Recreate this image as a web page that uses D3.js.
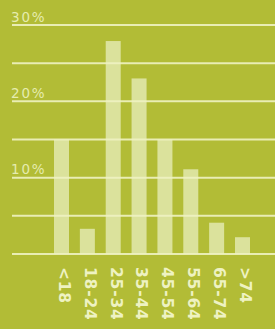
<!DOCTYPE html>
<html><head><meta charset="utf-8">
<script src="https://cdn.jsdelivr.net/npm/d3@7"></script>
<style>html,body{margin:0;padding:0;background:#b2bc36;overflow:hidden}</style>
</head><body>
<script>
const categories = ["<18","18-24","25-34","35-44","45-54","55-64","65-74",">74"];
const values = [15.0, 3.3, 27.9, 23.0, 15.0, 11.1, 4.1, 2.2];
const gridTicks = [0,5,10,15,20,25,30];
const labelTicks = [10,20,30];

const W = 275, H = 329;
const svg = d3.select("body").append("svg").attr("width", W).attr("height", H);
svg.append("rect").attr("width", W).attr("height", H).attr("fill", "#b2bc36");

const y = d3.scaleLinear().domain([0,30]).range([254,25]);
const x = d3.scaleBand().domain(categories).range([54,250]).paddingInner(0.42).paddingOuter(0);

svg.selectAll("rect.bar").data(values).join("rect")
  .attr("class","bar")
  .attr("x",(d,i)=>x(categories[i]))
  .attr("y",d=>y(d))
  .attr("width",x.bandwidth())
  .attr("height",d=>y(0)-y(d))
  .attr("fill","#dbe29c");

svg.selectAll("line.grid").data(gridTicks).join("line")
  .attr("class","grid")
  .attr("x1",12).attr("x2",W)
  .attr("y1",d=>y(d)).attr("y2",d=>y(d))
  .attr("stroke","#eef2c2").attr("stroke-opacity",0.9).attr("stroke-width",2);

svg.selectAll("text.ylab").data(labelTicks).join("text")
  .attr("class","ylab")
  .attr("x",11).attr("y",d=>y(d)-3.5)
  .attr("font-family","DejaVu Sans").attr("font-weight",400)
  .attr("font-size",13.5).attr("letter-spacing",1.8)
  .attr("fill","#e6ecaf")
  .text(d=>d+"%");

svg.selectAll("text.xlab").data(categories).join("text")
  .attr("class","xlab")
  .attr("transform",d=>`translate(${x(d)+x.bandwidth()/2+3},267) rotate(90)`)
  .attr("dy","0.36em")
  .attr("font-family","DejaVu Sans").attr("font-weight",700)
  .attr("font-size",15.5).attr("letter-spacing",0.8)
  .attr("fill","#eef2c2")
  .text(d=>d);
</script>
</body></html>
